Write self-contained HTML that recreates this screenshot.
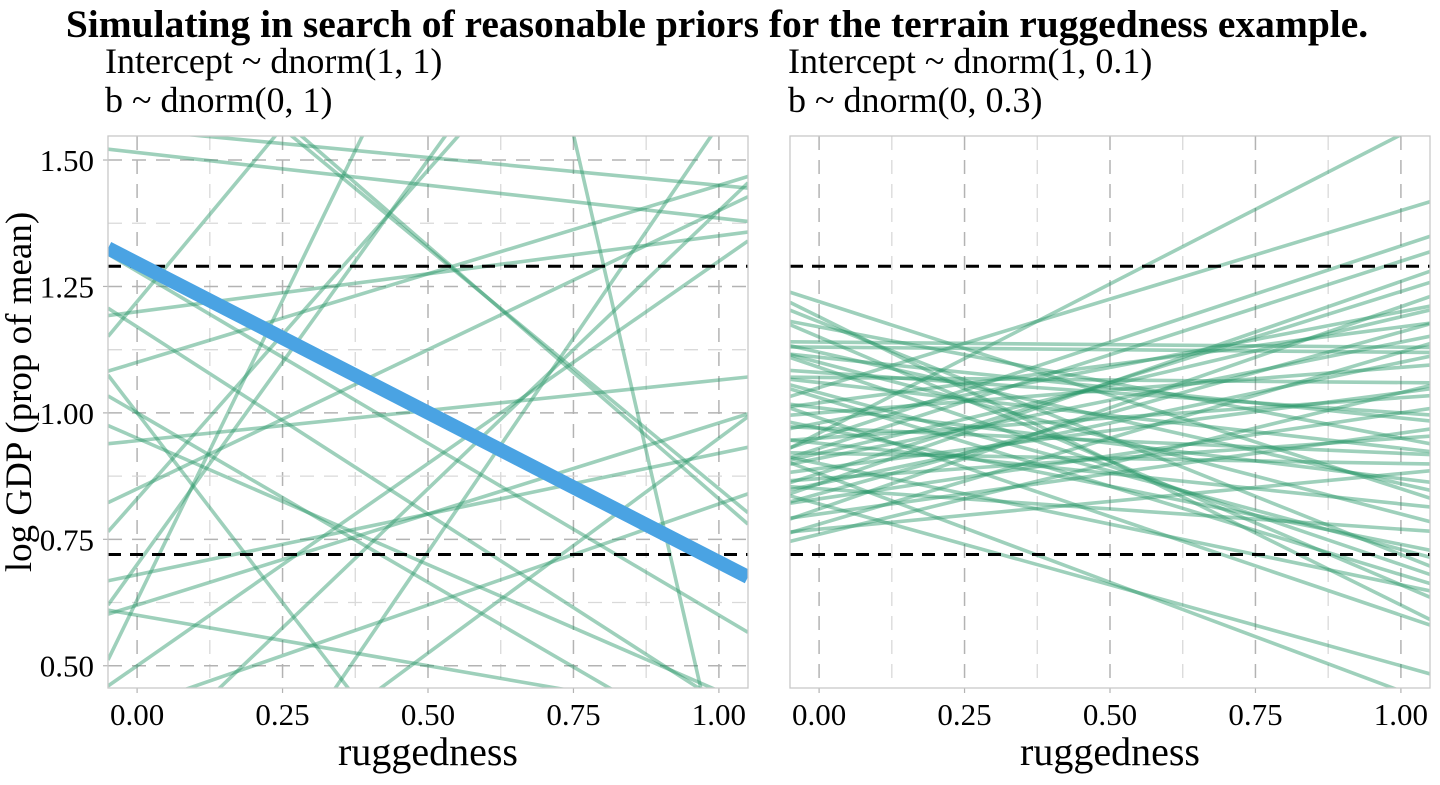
<!DOCTYPE html>
<html><head><meta charset="utf-8"><style>
html,body{margin:0;padding:0;background:#fff;overflow:hidden;}
svg text{font-family:"Liberation Serif",serif;}
</style></head><body>
<svg id="chart" width="1440" height="780" xmlns="http://www.w3.org/2000/svg">
<text x="717" y="37" text-anchor="middle" font-size="39.5" font-weight="bold">Simulating in search of reasonable priors for the terrain ruggedness example.</text>
<text x="105" y="73" font-size="36">Intercept ~ dnorm(1, 1)</text>
<text x="105" y="112" font-size="36">b ~ dnorm(0, 1)</text>
<text x="788" y="73" font-size="36">Intercept ~ dnorm(1, 0.1)</text>
<text x="788" y="112" font-size="36">b ~ dnorm(0, 0.3)</text>
<text transform="translate(31,392) rotate(-90)" text-anchor="middle" font-size="37">log GDP (prop of mean)</text>
<g id="left"></g>
<g id="right"></g>
</svg>
<script>
const xTicks = [0, 0.25, 0.5, 0.75, 1];
const xTickLabels = ["0.00", "0.25", "0.50", "0.75", "1.00"];
const yTicks = [0.5, 0.75, 1.0, 1.25, 1.5];
const yTickLabels = ["0.50", "0.75", "1.00", "1.25", "1.50"];
const refLines = [1.29, 0.72];
const blueLine = [1.296, 0.705];
const leftYAtZero = [1.515,1.20,1.17,1.00,0.945,0.85,1.22,0.62,0.68,0.63,1.0,0.42,0.10,5.3,-0.12,0.83,0.70,1.83,1.80,1.10,0.95,0.50,0.30,1.56,0.60,1.28];
const leftYAtOne  = [1.385,1.35,0.43,0.33,1.065,1.40,2.6,0.98,0.92,3.0,-0.5,0.82,0.95,0.3,1.57,2.13,2.3,0.83,0.85,1.45,0.45,1.30,1.40,1.45,0.40,0.60];
const rightYAtZero = [1.19,1.18,1.17,1.15,1.14,1.13,1.12,1.10,1.09,1.08,1.06,1.05,1.04,1.02,1.01,1.00,0.99,0.98,0.97,0.96,0.95,0.94,0.93,0.92,0.91,0.90,0.89,0.88,0.87,0.86,0.85,0.84,0.83,0.82,0.81,0.80,0.78,0.77,0.76,1.22,0.95,0.88,1.11,0.92,1.03,0.86,0.97,1.07];
const rightYAtOne  = [0.62,0.72,0.95,0.66,1.13,1.12,0.86,0.80,0.70,1.00,0.93,1.40,0.73,1.17,0.87,1.09,0.60,1.20,0.92,1.55,1.03,0.82,1.30,0.90,1.14,0.66,1.04,1.24,0.95,1.10,0.77,1.16,1.00,0.50,1.21,0.96,1.12,0.88,1.04,0.85,1.33,0.45,0.99,1.19,0.68,1.26,0.74,1.06];

const NS="http://www.w3.org/2000/svg";
const yTop=136, yBot=688, dMin=0.456, dMax=1.5475;
const xDMin=-0.05, xDMax=1.05;
function yScale(v){return yBot-(v-dMin)/(dMax-dMin)*(yBot-yTop);}
function mk(tag,attrs,parent){const e=document.createElementNS(NS,tag);for(const k in attrs)e.setAttribute(k,attrs[k]);parent.appendChild(e);return e;}

function panel(g,x0,x1,y0s,y1s,showY,hGrid,prefix){
  const xScale=v=>x0+(v-xDMin)/(xDMax-xDMin)*(x1-x0);
  const clipId=prefix+"-clip";
  const cp=mk("clipPath",{id:clipId},g);
  mk("rect",{x:x0,y:yTop,width:x1-x0,height:yBot-yTop},cp);
  for(let i=0;i<xTicks.length-1;i++){
    const l=mk("line",{x1:xScale((xTicks[i]+xTicks[i+1])/2),x2:xScale((xTicks[i]+xTicks[i+1])/2),y1:yTop,y2:yBot,stroke:"#d9d9d9","stroke-width":1.3,"stroke-dasharray":"14,10"},g);
    
    
  }
  xTicks.forEach((t,i)=>{
    const l=mk("line",{x1:xScale(t),x2:xScale(t),y1:yTop,y2:yBot,stroke:"#b3b3b3","stroke-width":1.5,"stroke-dasharray":"14,10"},g);
    
    
    const tk=mk("line",{x1:xScale(t),x2:xScale(t),y1:yBot,y2:yBot+5,stroke:"#b3b3b3","stroke-width":1.2},g);
    
    
    const tx=mk("text",{x:xScale(t),y:yBot+37,"text-anchor":"middle","font-size":31},g);
    tx.textContent=xTickLabels[i];
    
    
  });
  if(hGrid){
    for(let i=0;i<yTicks.length-1;i++){
      const yy=yScale((yTicks[i]+yTicks[i+1])/2);
      const l=mk("line",{x1:x0,x2:x1,y1:yy,y2:yy,stroke:"#d9d9d9","stroke-width":1.3,"stroke-dasharray":"14,10"},g);
      
      
    }
    yTicks.forEach(t=>{
      const l=mk("line",{x1:x0,x2:x1,y1:yScale(t),y2:yScale(t),stroke:"#b3b3b3","stroke-width":1.5,"stroke-dasharray":"14,10"},g);
      
      
    });
  }
  if(showY){
    yTicks.forEach((t,i)=>{
      const tk=mk("line",{x1:x0-5,x2:x0,y1:yScale(t),y2:yScale(t),stroke:"#b3b3b3","stroke-width":1.2},g);
      
      
      const tx=mk("text",{x:x0-14,y:yScale(t)+11,"text-anchor":"end","font-size":31},g);
      tx.textContent=yTickLabels[i];
      
      
    });
  }
  const lg=mk("g",{"clip-path":"url(#"+clipId+")"},g);
  y0s.forEach((a,i)=>{
    const b=y1s[i]-a;
    const l=mk("line",{x1:xScale(xDMin),y1:yScale(a+b*xDMin),x2:xScale(xDMax),y2:yScale(a+b*xDMax),stroke:"rgb(40,150,105)","stroke-opacity":0.45,"stroke-width":3.6},lg);
    
    
  });
  refLines.forEach(v=>{
    const l=mk("line",{x1:x0,x2:x1,y1:yScale(v),y2:yScale(v),stroke:"#000","stroke-width":3,"stroke-dasharray":"13,9"},lg);
    
    
  });
  const br=mk("rect",{x:x0,y:yTop,width:x1-x0,height:yBot-yTop,fill:"none",stroke:"#c8c8c8","stroke-width":1.3},g);
  
  
  const xt=mk("text",{x:(x0+x1)/2,y:765,"text-anchor":"middle","font-size":40},g);
  xt.textContent="ruggedness";
  
  
  return {xScale,lg};
}
const L=panel(document.getElementById("left"),108,748,leftYAtZero,leftYAtOne,true,true,"left");
panel(document.getElementById("right"),790,1430,rightYAtZero,rightYAtOne,false,false,"right");
const bb=blueLine[1]-blueLine[0];
const bl=mk("line",{x1:L.xScale(xDMin),y1:yScale(blueLine[0]+bb*xDMin),x2:L.xScale(xDMax),y2:yScale(blueLine[0]+bb*xDMax),stroke:"#4aa3e3","stroke-width":14},L.lg);


</script>
</body></html>
